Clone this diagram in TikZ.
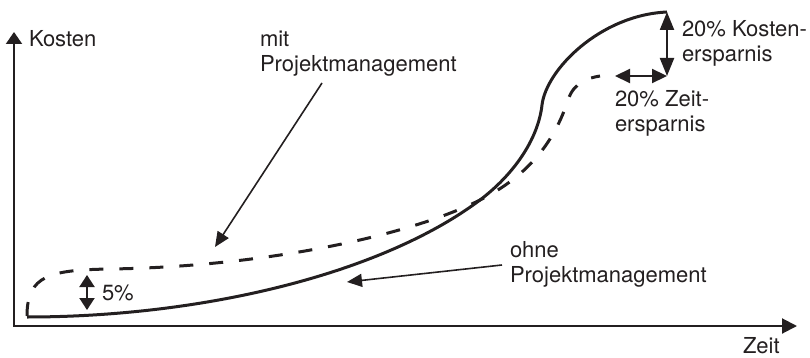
\documentclass[tikz,border=0pt]{standalone}
\usepackage{fontspec}
\setmainfont{TeX Gyre Heros}
\usetikzlibrary{arrows.meta}
\definecolor{ink}{RGB}{35,31,32}
\begin{document}
\begin{tikzpicture}[x=1pt,y=-1pt,
  every node/.style={inner sep=0pt, outer sep=0pt, text=ink,
    font=\fontsize{22}{25}\selectfont, align=left},
  lbl/.style={anchor=base west},
  axis/.style={draw=ink, line width=2pt, line join=miter},
  curve/.style={draw=ink, line width=3pt},
  dashcurve/.style={curve, dash pattern=on 14pt off 16pt},
  pointer/.style={draw=ink, line width=1.6pt, -{Triangle[length=15pt,width=13pt]}},
  span/.style={draw=ink, line width=2.2pt,
    {Triangle[length=#1,width=14pt]}-{Triangle[length=#1,width=14pt]}},
]
\useasboundingbox (0,0) rectangle (810,358);

% axes
\coordinate (origin) at (14,326);
\coordinate (ytip) at (14,32);
\coordinate (xtip) at (797,326);
\draw[axis, {Triangle[length=12pt,width=16pt]}-{Triangle[length=15pt,width=15pt]}]
  (ytip) -- (origin) -- (xtip);

% cost curve without project management
\coordinate (solidStart) at (27,317);
\coordinate (solidEnd) at (667,12);
\draw[curve] (solidStart)
  .. controls (200,317) and (380,275) .. (480,200)
  .. controls (513,175) and (538,140) .. (542,105)
  .. controls (546,70) and (600,15) .. (solidEnd);

% cost curve with project management
\coordinate (dashStart) at (27,316);
\coordinate (dashEnd) at (600,76);
\draw[dashcurve] (dashStart)
  .. controls (27,275) and (50,270) .. (110,269)
  .. controls (250,267) and (400,240) .. (480,200)
  .. controls (530,175) and (555,140) .. (568,100)
  .. controls (574,82) and (588,78) .. (dashEnd);

% labels
\node[lbl] (kosten) at (29,47) {Kosten};
\node[lbl] (mit) at (260,72) {mit\\Projektmanagement};
\node[lbl] (ohne) at (510,282) {ohne\\Projektmanagement};
\node[lbl] (ks) at (682,62) {20\% Kosten-\\ersparnis};
\node[lbl] (zs) at (615,132) {20\% Zeit-\\ersparnis};
\node[lbl] (five) at (102,300) {5\%};
\node[lbl] (zeit) at (743,353) {Zeit};

% pointers to the curves
\coordinate (mitFrom) at (322,83);
\coordinate (mitTip) at (215,247);
\coordinate (ohneFrom) at (502,265);
\coordinate (ohneTip) at (347,282);
\draw[pointer] (mitFrom) -- (mitTip);
\draw[pointer] (ohneFrom) -- (ohneTip);

% savings spans
\coordinate (corner) at (667,76);
\coordinate (timeStart) at (615,76);
\draw[span=18pt] (solidEnd) -- (corner);
\draw[span=15pt] (timeStart) -- (corner);
\coordinate (gapTop) at (87,275);
\coordinate (gapBot) at (87,310);
\draw[draw=ink, line width=2pt,
  {Triangle[length=12pt,width=15pt]}-{Triangle[length=12pt,width=15pt]}] (gapTop) -- (gapBot);
\end{tikzpicture}
\end{document}
